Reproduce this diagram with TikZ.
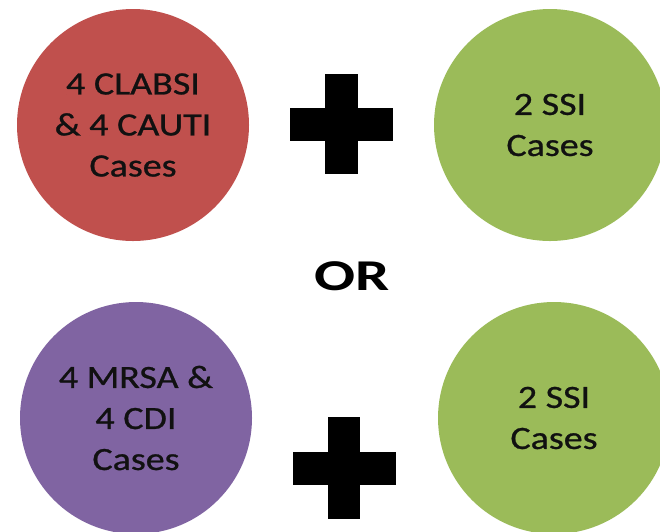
\documentclass[tikz,border=0pt]{standalone}
\usepackage{fontspec}
\newfontfamily\circfont[FakeStretch=1.17,FakeBold=0.8]{Carlito}
\newfontfamily\orfont[FakeStretch=1.38]{Carlito Bold}
\definecolor{cred}{HTML}{C0504D}
\definecolor{cgreen}{HTML}{9BBB59}
\definecolor{cpurple}{HTML}{8064A2}
\definecolor{ctext}{HTML}{111111}
\tikzset{
  disc/.style={circle, inner sep=0pt, minimum size=232pt, align=center,
    text=ctext, font=\circfont\fontsize{32.5pt}{41pt}\selectfont},
  plusbar/.style={fill=black},
}
\begin{document}
\begin{tikzpicture}[x=1pt,y=-1pt]
\useasboundingbox (0,0) rectangle (660,531);
\clip (0,0) rectangle (660,531);
\fill[white] (0,0) rectangle (660,531);
% circles
\node[disc, fill=cred] (clabsi) at (133,125) {4 CLABSI\\\& 4 CAUTI\\Cases};
\node[disc, fill=cgreen] (ssiA) at (550,125) {2 SSI\\Cases};
\node[disc, fill=cpurple] (mrsa) at (136,418) {4 MRSA \&\\4 CDI\\Cases};
\node[disc, fill=cgreen] (ssiB) at (554,418) {2 SSI\\Cases};
% plus signs
\fill[plusbar] (290,108) rectangle (393,141);
\fill[plusbar] (325,74) rectangle (358,174);
\fill[plusbar] (293,452) rectangle (396,485);
\fill[plusbar] (328,417) rectangle (360,519);
% OR
\node[inner sep=0pt, anchor=base, font=\orfont\fontsize{44pt}{46pt}\selectfont] (or) at (352.5,290) {OR};
\end{tikzpicture}
\end{document}
